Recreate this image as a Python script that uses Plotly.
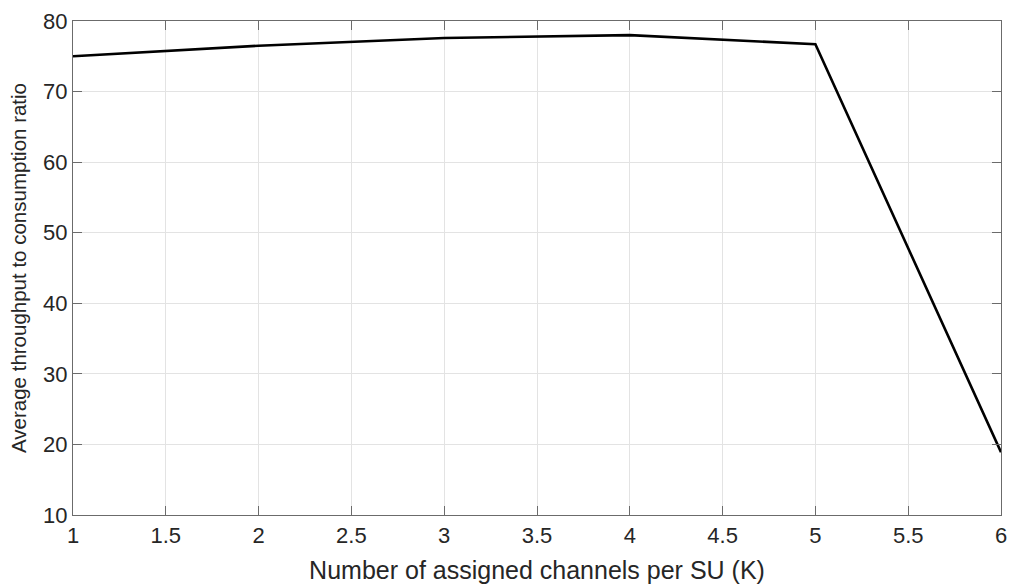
import plotly.graph_objects as go

# Number of assigned channels per SU and the resulting ratio
channels_k = [1, 2, 3, 4, 5, 6]
avg_ratio = [75.0, 76.5, 77.6, 78.0, 76.7, 18.9]

x_ticks = [1, 1.5, 2, 2.5, 3, 3.5, 4, 4.5, 5, 5.5, 6]
x_tick_text = ["1", "1.5", "2", "2.5", "3", "3.5", "4", "4.5", "5", "5.5", "6"]
y_ticks = [10, 20, 30, 40, 50, 60, 70, 80]

axis_color = "#6b6b6b"
text_color = "#262626"
font_family = "Liberation Sans, Arial, sans-serif"

fig = go.Figure()
fig.add_trace(go.Scatter(
    x=channels_k, y=avg_ratio, mode="lines",
    line=dict(color="black", width=2.6),
    showlegend=False, hoverinfo="x+y",
))

common_axis = dict(
    showline=True, linecolor=axis_color, linewidth=1.2, mirror="ticks",
    ticks="inside", ticklen=9, tickwidth=1, tickcolor=axis_color,
    showgrid=True, gridcolor="#e3e3e3", gridwidth=1,
    zeroline=False,
    tickfont=dict(family=font_family, size=22, color=text_color),
)

fig.update_xaxes(
    range=[1, 6], tickvals=x_ticks, ticktext=x_tick_text,
    title=dict(text="Number of assigned channels per SU (K)",
               font=dict(family=font_family, size=25, color=text_color),
               standoff=14),
    **common_axis,
)
fig.update_yaxes(
    range=[10, 80], tickvals=y_ticks,
    title=dict(text="Average throughput to consumption ratio",
               font=dict(family=font_family, size=20.5, color=text_color),
               standoff=10),
    **common_axis,
)

fig.update_layout(
    width=1016, height=588,
    margin=dict(l=73, r=9, t=15, b=72),
    paper_bgcolor="white", plot_bgcolor="white",
    font=dict(family=font_family, color=text_color),
)

fig.write_html("out.html")
